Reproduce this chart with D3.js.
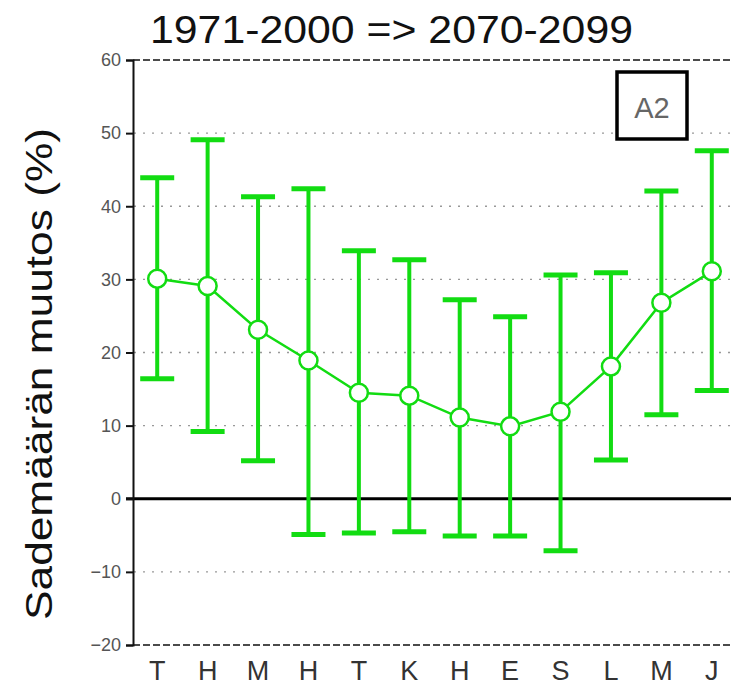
<!DOCTYPE html>
<html>
<head>
<meta charset="utf-8">
<script src="https://cdn.jsdelivr.net/npm/d3@7"></script>
<style>
body{margin:0;background:#fff;}
svg{display:block;font-family:"Liberation Sans",Arial,sans-serif;}
</style>
</head>
<body>
<div id="chart"></div>
<script>
const WIDTH=731;
const HEIGHT=700;
const GREEN="#12dc12";

// data
const months=["T","H","M","H ","T ","K","H  ","E","S","L","M ","J"];
const monthLabels=["T","H","M","H","T","K","H","E","S","L","M","J"];
const means=[30.1,29.1,23.1,18.9,14.5,14.1,11.1,9.9,11.9,18.1,26.8,31.1];
const upper=[43.9,49.1,41.3,42.4,33.9,32.7,27.2,24.9,30.6,30.9,42.1,47.6];
const lower=[16.4,9.2,5.2,-4.9,-4.7,-4.5,-5.1,-5.1,-7.1,5.3,11.5,14.8];
const yTicks=[-20,-10,0,10,20,30,40,50,60];
const gridTicks=[-10,10,20,30,40,50];

const data=months.map((m,i)=>({m,label:monthLabels[i],mean:means[i],hi:upper[i],lo:lower[i]}));

const svg=d3
    .select("#chart")
    .append("svg")
    .attr("width",WIDTH)
    .attr("height",HEIGHT);

const x=d3.scaleBand()
    .domain(months)
    .range([132,737]);

const y=d3.scaleLinear()
    .domain([-20,60])
    .range([645,60]);

const cx=d=>x(d.m)+x.bandwidth()/2;

// gridlines
svg.append("g")
    .selectAll("line")
    .data(gridTicks)
    .enter()
    .append("line")
    .attr("x1",134).attr("x2",WIDTH)
    .attr("y1",d=>y(d)).attr("y2",d=>y(d))
    .attr("stroke","#999")
    .attr("stroke-width",1.3)
    .attr("stroke-dasharray","2,7");

// top and bottom dashed frame
svg.append("g")
    .selectAll("line")
    .data([60,-20])
    .enter()
    .append("line")
    .attr("x1",133).attr("x2",WIDTH)
    .attr("y1",d=>y(d)).attr("y2",d=>y(d))
    .attr("stroke","#111")
    .attr("stroke-width",1.5)
    .attr("stroke-dasharray","7,3");

// zero line
svg.append("line")
    .attr("x1",126).attr("x2",WIDTH)
    .attr("y1",y(0)).attr("y2",y(0))
    .attr("stroke","#000")
    .attr("stroke-width",3);

// y axis
const yAxis=d3.axisLeft(y)
    .tickValues(yTicks)
    .tickSize(7)
    .tickPadding(5)
    .tickFormat(d=>d<0?"\u2212"+Math.abs(d):d);

const ga=svg.append("g")
    .attr("transform","translate(133,0)")
    .call(yAxis);
ga.select(".domain").attr("stroke","#111").attr("stroke-width",2);
ga.selectAll(".tick line").attr("stroke","#111").attr("stroke-width",2);
ga.selectAll(".tick text")
    .attr("fill","#555")
    .style("font-size","18px")
    .style("font-family","'Liberation Sans',Arial,sans-serif");

// x labels
svg.append("g")
    .selectAll("text")
    .data(data)
    .enter()
    .append("text")
    .attr("x",cx)
    .attr("y",680)
    .attr("text-anchor","middle")
    .attr("fill","#333")
    .style("font-size","27px")
    .style("font-weight","300")
    .text(d=>d.label);

// error bars
const eb=svg.append("g");
eb.selectAll(".whisker")
    .data(data)
    .enter()
    .append("line")
    .attr("class","whisker")
    .attr("x1",cx).attr("x2",cx)
    .attr("y1",d=>y(d.hi)).attr("y2",d=>y(d.lo))
    .attr("stroke",GREEN)
    .attr("stroke-width",4);

["hi","lo"].forEach(k=>{
    eb.selectAll(".cap-"+k)
        .data(data)
        .enter()
        .append("line")
        .attr("class","cap-"+k)
        .attr("x1",d=>cx(d)-17).attr("x2",d=>cx(d)+17)
        .attr("y1",d=>y(d[k])).attr("y2",d=>y(d[k]))
        .attr("stroke",GREEN)
        .attr("stroke-width",5);
});

// mean line
const line=d3.line()
    .x(cx)
    .y(d=>y(d.mean));

svg.append("path")
    .datum(data)
    .attr("d",line)
    .attr("fill","none")
    .attr("stroke",GREEN)
    .attr("stroke-width",2.5);

svg.append("g")
    .selectAll("circle")
    .data(data)
    .enter()
    .append("circle")
    .attr("cx",cx)
    .attr("cy",d=>y(d.mean))
    .attr("r",9)
    .attr("fill","#fff")
    .attr("stroke",GREEN)
    .attr("stroke-width",2.5);

// title
svg.append("text")
    .attr("x",150)
    .attr("y",43)
    .attr("textLength",483)
    .attr("lengthAdjust","spacingAndGlyphs")
    .attr("fill","#111")
    .style("font-size","38px")
    .text("1971-2000 => 2070-2099");

// y axis title
svg.append("text")
    .attr("transform","translate(52,620) rotate(-90)")
    .attr("textLength",492)
    .attr("lengthAdjust","spacingAndGlyphs")
    .attr("fill","#111")
    .style("font-size","36px")
    .text("Sademäärän muutos (%)");

// scenario box
svg.append("rect")
    .attr("x",617).attr("y",72)
    .attr("width",70).attr("height",67)
    .attr("fill","#fff")
    .attr("stroke","#000")
    .attr("stroke-width",3.5);

svg.append("text")
    .attr("x",652).attr("y",118)
    .attr("text-anchor","middle")
    .attr("fill","#666")
    .style("font-size","29px")
    .style("font-weight","300")
    .text("A2");
</script>
</body>
</html>
